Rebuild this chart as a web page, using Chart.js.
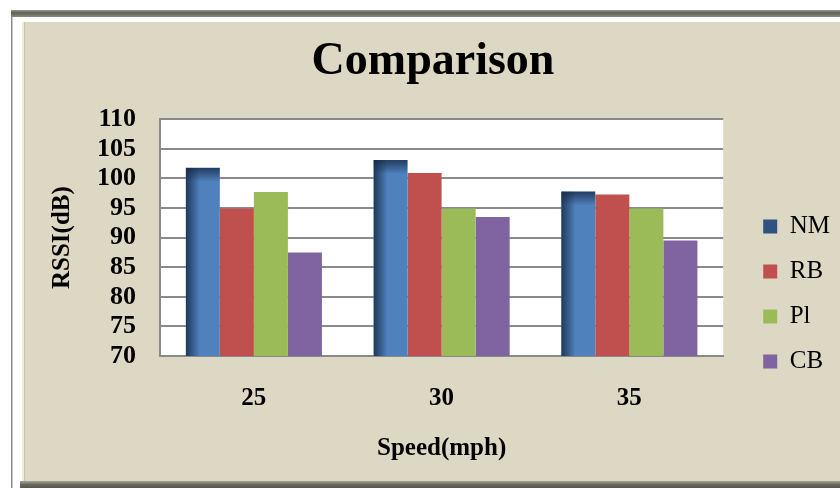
<!DOCTYPE html>
<html>
<head>
<meta charset="utf-8">
<script src="https://cdn.jsdelivr.net/npm/chart.js@4/dist/chart.umd.min.js"></script>
<style>
  html, body { margin: 0; padding: 0; background: #ffffff; }
  #wrap { width: 840px; height: 488px; position: relative; }
</style>
</head>
<body>
<div id="wrap"><canvas id="chart" width="840" height="488"></canvas></div>
<script>
// Speeds on the category axis
const categories = ['25', '30', '35'];
// Series names
const seriesNames = ['NM', 'RB', 'Pl', 'CB'];
// RSSI readings per series, one per speed
const nmValues = [101.8, 103.1, 97.8];
const rbValues = [94.9, 100.9, 97.3];
const plValues = [97.7, 94.9, 94.9];
const cbValues = [87.5, 93.5, 89.5];
// Value axis range and tick step
const yMin = 70;
const yMax = 110;
const yStep = 5;

const seriesColors = ['#4F81BD', '#C0504D', '#9BBB59', '#8064A2'];
const seriesValues = [nmValues, rbValues, plValues, cbValues];

const SERIF = "'Liberation Serif', 'Times New Roman', serif";

// Parchment panel with bevelled frame, plus white plot area
const framePlugin = {
  id: 'frame',
  beforeDraw(chart) {
    const ctx = chart.ctx;
    const W = chart.width, H = chart.height;
    ctx.save();
    ctx.fillStyle = '#ffffff';
    ctx.fillRect(0, 0, W, H);
    // outer thin left line
    ctx.fillStyle = '#8c8c8c';
    ctx.fillRect(11, 10, 1.5, H - 10);
    // top dark band
    let g = ctx.createLinearGradient(0, 10, 0, 17);
    g.addColorStop(0, '#9a9a90');
    g.addColorStop(0.4, '#5f5f56');
    g.addColorStop(1, '#8a8a80');
    ctx.fillStyle = g;
    ctx.fillRect(11, 10, W - 11, 7);
    // panel
    ctx.fillStyle = '#DDD8C3';
    ctx.fillRect(22, 22, W - 22, 459);
    // inner bevel on left edge
    ctx.fillStyle = '#f1ecd6';
    ctx.fillRect(22, 22, 2, 459);
    ctx.fillStyle = '#c9c4ae';
    ctx.fillRect(24, 22, 1, 459);
    // bottom dark band
    g = ctx.createLinearGradient(0, 481, 0, 488);
    g.addColorStop(0, '#a5a294');
    g.addColorStop(0.5, '#6a6a60');
    g.addColorStop(1, '#55554c');
    ctx.fillStyle = g;
    ctx.fillRect(20, 481, W - 20, 7);
    // plot area
    const a = chart.chartArea;
    ctx.fillStyle = '#ffffff';
    ctx.fillRect(a.left, a.top, a.right - a.left, a.bottom - a.top);
    ctx.restore();
  },
  afterDatasetDraw(chart, args) {
    if (args.index !== 0) return;
    // shaded edges on the first series' bars
    const ctx = chart.ctx;
    const bottom = chart.chartArea.bottom;
    chart.getDatasetMeta(0).data.forEach(bar => {
      const left = bar.x - bar.width / 2;
      const top = bar.y;
      const w = bar.width;
      const h = Math.min(bar.base, bottom) - bar.y;
      ctx.save();
      ctx.beginPath();
      ctx.rect(left, top, w, h);
      ctx.clip();
      let g = ctx.createLinearGradient(left, 0, left + 14, 0);
      g.addColorStop(0, 'rgba(22,42,72,0.85)');
      g.addColorStop(1, 'rgba(22,42,72,0)');
      ctx.fillStyle = g;
      ctx.fillRect(left, top, 14, h);
      g = ctx.createLinearGradient(0, top, 0, top + 14);
      g.addColorStop(0, 'rgba(22,42,72,0.8)');
      g.addColorStop(1, 'rgba(22,42,72,0)');
      ctx.fillStyle = g;
      ctx.fillRect(left, top, w, 14);
      ctx.restore();
    });
  }
};

const datasets = seriesNames.map((name, i) => ({
  label: name,
  data: seriesValues[i],
  backgroundColor: seriesColors[i],
  borderWidth: 0,
  categoryPercentage: 0.725,
  barPercentage: 1.0
}));

new Chart(document.getElementById('chart'), {
  type: 'bar',
  data: { labels: categories, datasets },
  plugins: [framePlugin],
  options: {
    responsive: false,
    animation: false,
    layout: { padding: { left: 26, right: 0, top: 0, bottom: 10 } },
    plugins: {
      title: {
        display: true,
        text: 'Comparison',
        color: '#000000',
        font: { family: SERIF, size: 46, weight: 'bold' },
        padding: { top: 35, bottom: 29 }
      },
      legend: {
        position: 'right',
        title: {
          display: true,
          text: ' ',
          font: { family: SERIF, size: 10 },
          padding: { top: 0, bottom: 98 }
        },
        labels: {
          color: '#000000',
          font: { family: SERIF, size: 25 },
          boxWidth: 14,
          boxHeight: 14,
          padding: 20,
          generateLabels(chart) {
            const items = Chart.defaults.plugins.legend.labels.generateLabels(chart);
            if (items[0]) items[0].fillStyle = '#2f5381';
            return items;
          }
        }
      },
      tooltip: { enabled: false }
    },
    scales: {
      x: {
        grid: { display: false },
        border: { display: true, color: '#8a8a8a', width: 2 },
        ticks: { color: '#000000', font: { family: SERIF, size: 25, weight: 'bold' }, padding: 20 },
        title: {
          display: true,
          text: 'Speed(mph)',
          color: '#000000',
          font: { family: SERIF, size: 25, weight: 'bold' },
          padding: { top: 0, bottom: 14 }
        },
        afterFit(s) { s.height = 122; }
      },
      y: {
        min: yMin,
        max: yMax,
        grid: { color: '#8a8a8a', lineWidth: 2, drawTicks: false },
        border: { display: true, color: '#8a8a8a', width: 2 },
        ticks: {
          stepSize: yStep,
          autoSkip: false,
          color: '#000000',
          font: { family: SERIF, size: 26, weight: 'bold', lineHeight: 1 },
          padding: 24
        },
        title: {
          display: true,
          text: 'RSSI(dB)',
          color: '#000000',
          font: { family: SERIF, size: 25, weight: 'bold' },
          padding: { top: 22, bottom: 0 }
        },
        afterFit(s) { s.width = 134; }
      },
      gap: {
        type: 'linear',
        position: 'right',
        display: true,
        grid: { display: false, drawTicks: false },
        border: { display: false },
        ticks: { display: false },
        afterFit(s) { s.width = 20; }
      }
    }
  }
});
</script>
</body>
</html>
